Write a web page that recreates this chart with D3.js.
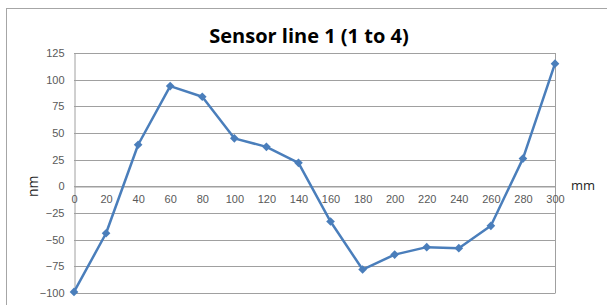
<!DOCTYPE html>
<html>
<head>
<meta charset="utf-8">
<script src="https://cdn.jsdelivr.net/npm/d3@7"></script>
<style>
  body { margin: 0; background: #fff; }
  svg { display: block; font-family: "Open Sans", "Liberation Sans", sans-serif; }
</style>
</head>
<body>
<div id="chart"></div>
<script>
// sensor readings, position in mm vs deviation in nm
const positions = [0, 20, 40, 60, 80, 100, 120, 140, 160, 180, 200, 220, 240, 260, 280, 300]
const values = [-99, -44, 39, 94, 84, 45, 37, 22, -33, -78, -64, -57, -58, -37, 26, 115]
const yTicks = [125, 100, 75, 50, 25, 0, -25, -50, -75, -100]
const xTicks = [0, 20, 40, 60, 80, 100, 120, 140, 160, 180, 200, 220, 240, 260, 280, 300]

const width = 607
const height = 305
const marginLeft = 74
const marginRight = 52      // plot ends at 555
const marginTop = 53
const marginBottom = 12     // plot ends at 293
const lineColor = "#4a7ebb"
const gridColor = "#a0a0a0"
const textColor = "#595959"

const svg = d3.select("#chart").append("svg")
    .attr("width", width)
    .attr("height", height)

// outer chart frame
svg.append("rect")
    .attr("x", 6.5).attr("y", 8.5)
    .attr("width", width + 10).attr("height", height + 10)
    .attr("fill", "none").attr("stroke", "#a6a6a6")

const x = d3.scaleLinear([0, 300], [marginLeft, width - marginRight])
const y = d3.scaleLinear([-100, 125], [height - marginBottom, marginTop])

// horizontal gridlines
svg.append("g")
    .selectAll("line")
    .data(yTicks)
    .join("line")
    .attr("x1", x(0)).attr("x2", x(300))
    .attr("y1", d => Math.round(y(d)) + 0.5)
    .attr("y2", d => Math.round(y(d)) + 0.5)
    .attr("stroke", gridColor)
    .attr("stroke-width", 1)

// plot border (right side)
svg.append("line")
    .attr("x1", Math.round(x(300)) + 0.5).attr("x2", Math.round(x(300)) + 0.5)
    .attr("y1", y(125)).attr("y2", y(-100) + 0.5)
    .attr("stroke", gridColor)

// y axis
const yAxis = d3.axisLeft(y).tickValues(yTicks).tickSize(0).tickPadding(10)
svg.append("g")
    .attr("transform", `translate(${Math.round(x(0)) + 0.5},0)`)
    .call(yAxis)
    .call(g => g.select(".domain").attr("stroke", gridColor))
    .call(g => g.selectAll("text").attr("fill", textColor).attr("font-size", 11))

// x axis sits on the zero line, labels below it
const xAxis = d3.axisBottom(x).tickValues(xTicks).tickSize(0).tickPadding(9)
svg.append("g")
    .attr("transform", `translate(0,${Math.round(y(0)) + 0.5})`)
    .call(xAxis)
    .call(g => g.select(".domain").attr("stroke", gridColor))
    .call(g => g.selectAll("text").attr("fill", textColor).attr("font-size", 11))

// line
const points = positions.map((p, i) => [p, values[i]])
svg.append("path")
    .datum(points)
    .attr("fill", "none")
    .attr("stroke", lineColor)
    .attr("stroke-width", 2.5)
    .attr("stroke-linejoin", "round")
    .attr("d", d3.line().x(d => x(d[0])).y(d => y(d[1])))

// diamond markers
svg.append("g")
    .selectAll("path")
    .data(points)
    .join("path")
    .attr("transform", d => `translate(${x(d[0])},${y(d[1])})`)
    .attr("d", d3.symbol(d3.symbolDiamond2, 48))
    .attr("fill", lineColor)

// title
svg.append("text")
    .attr("x", 309).attr("y", 43)
    .attr("text-anchor", "middle")
    .attr("font-size", 20)
    .attr("font-weight", "bold")
    .attr("fill", "#000")
    .text("Sensor line 1 (1 to 4)")

// axis titles
svg.append("text")
    .attr("transform", `translate(38,${y(0)}) rotate(-90)`)
    .attr("text-anchor", "middle")
    .attr("font-size", 14)
    .attr("fill", "#262626")
    .text("nm")

svg.append("text")
    .attr("x", 571).attr("y", y(0) + 4)
    .attr("text-anchor", "start")
    .attr("font-size", 13)
    .attr("fill", "#262626")
    .text("mm")
</script>
</body>
</html>
